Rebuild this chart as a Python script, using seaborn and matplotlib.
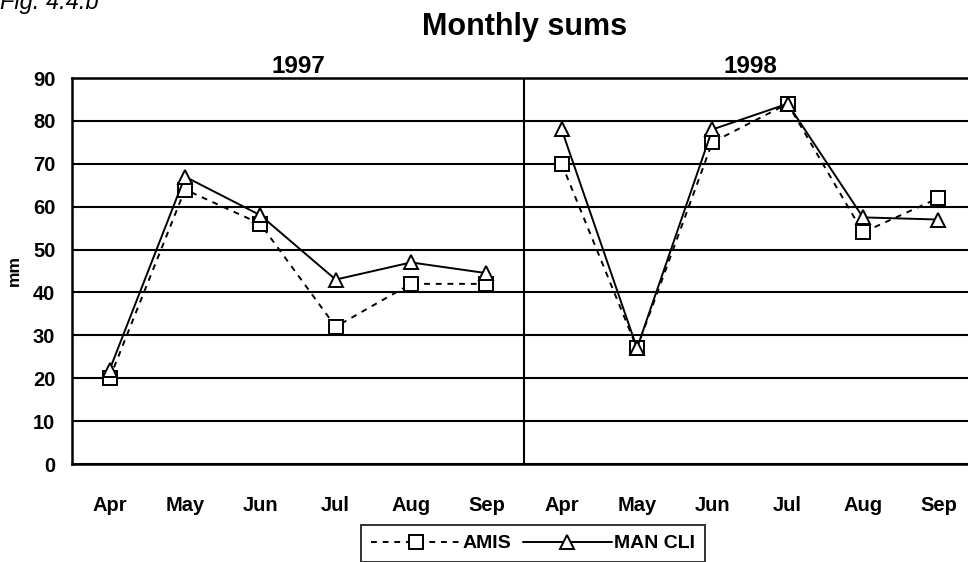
import pandas as pd
import matplotlib.pyplot as plt
import seaborn as sns
from matplotlib.lines import Line2D

# monthly sums, mm
months = ['Apr', 'May', 'Jun', 'Jul', 'Aug', 'Sep']
years = ['1997', '1998']
amis_1997 = [20, 64, 56, 32, 42, 42]
amis_1998 = [70, 27, 75, 84, 54, 62]
mancli_1997 = [22, 67, 58, 43, 47, 44.5]
mancli_1998 = [78, 27, 78, 84, 57.5, 57]

rows = []
for yi, (yr, a, m) in enumerate(zip(years, [amis_1997, amis_1998], [mancli_1997, mancli_1998])):
    for i, mon in enumerate(months):
        pos = yi * len(months) + i
        rows.append({'year': yr, 'month': mon, 'pos': pos, 'series': 'AMIS', 'mm': a[i]})
        rows.append({'year': yr, 'month': mon, 'pos': pos, 'series': 'MAN CLI', 'mm': m[i]})
df = pd.DataFrame(rows)

sns.set_style('white')
plt.rcParams['font.family'] = ['Liberation Sans', 'DejaVu Sans']
plt.rcParams['font.weight'] = 'bold'
for k in ['text.color', 'axes.labelcolor', 'xtick.color', 'ytick.color']:
    plt.rcParams[k] = 'black'

fig = plt.figure(figsize=(9.68, 5.62), dpi=100)
ax = fig.add_axes([72 / 968, 98 / 562, 904 / 968, 386 / 562])

markers = {'AMIS': 's', 'MAN CLI': '^'}
dashes = {'AMIS': (3, 3), 'MAN CLI': ''}
for yr in years:
    sub = df[df['year'] == yr]
    sns.lineplot(data=sub, x='pos', y='mm', style='series', markers=markers, dashes=dashes,
                 color='black', lw=1.4, markersize=9.5, markerfacecolor='white',
                 markeredgecolor='black', markeredgewidth=1.4, legend=False, ax=ax)

ax.set_xlim(-0.5, 11.5)
ax.set_ylim(0, 90)
ax.set_yticks(range(0, 91, 10))
ax.set_xticks(range(12))
ax.set_xticklabels(months * 2, fontsize=14.5, fontweight='bold')
ax.tick_params(axis='x', length=0, pad=23)
ax.tick_params(axis='y', length=0, pad=12, labelsize=14.5)
for lab in ax.get_yticklabels():
    lab.set_fontweight('bold')
ax.yaxis.grid(True, color='black', lw=1.5)
ax.set_axisbelow(True)
ax.axvline(5.5, color='black', lw=1.5)
for s in ['left', 'bottom', 'top']:
    ax.spines[s].set_color('black')
    ax.spines[s].set_linewidth(1.8)
ax.spines['right'].set_visible(False)

ax.set_xlabel('')
ax.set_ylabel('mm', fontsize=12.5, fontweight='bold', labelpad=8)

for yi, yr in enumerate(years):
    ax.text(yi * 6 + 2.5, 90, yr, ha='center', va='bottom', fontsize=17.5, fontweight='bold')

fig.text(525 / 968, 1 - 27 / 562, 'Monthly sums', ha='center', va='center',
         fontsize=22, fontweight='bold')
fig.text(0.0, 1 - 9 / 562, 'Fig. 4.4.b', ha='left', va='baseline',
         fontsize=17, fontstyle='italic', fontweight='normal')

handles = [
    Line2D([], [], color='black', lw=1.4, ls=(0, (3, 3)), marker='s', markersize=9.5,
           markerfacecolor='white', markeredgewidth=1.4),
    Line2D([], [], color='black', lw=1.4, marker='^', markersize=9.5,
           markerfacecolor='white', markeredgewidth=1.4),
]
leg = fig.legend(handles, ['AMIS', 'MAN CLI'], loc='upper center', ncol=2,
                 bbox_to_anchor=(533 / 968, 1 - 525 / 562), borderaxespad=0, fontsize=14,
                 frameon=True, fancybox=False, handlelength=4.6, handletextpad=0.1,
                 columnspacing=0.6, borderpad=0.5)
leg.get_frame().set_edgecolor('black')
leg.get_frame().set_linewidth(1.4)
for t in leg.get_texts():
    t.set_fontweight('bold')

fig.savefig('out.png', dpi=100)
